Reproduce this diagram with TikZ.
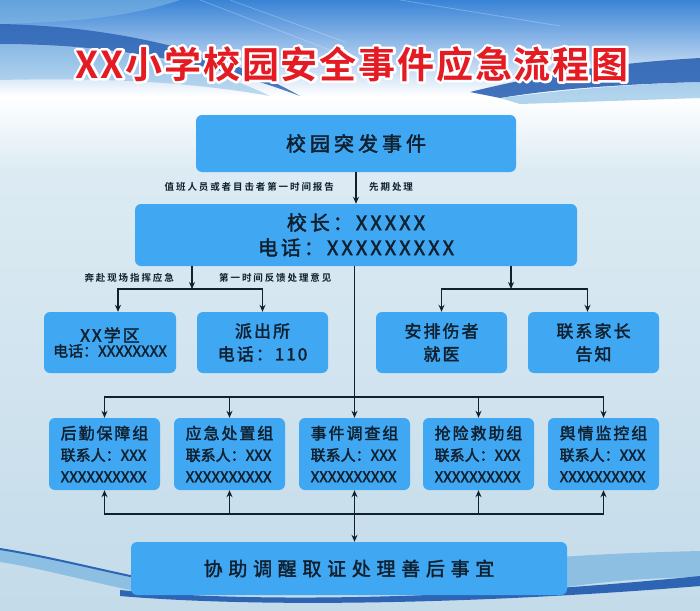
\documentclass[tikz,border=0pt]{standalone}
\usepackage{fontspec}
\setmainfont{Noto Sans CJK SC}[BoldFont={Noto Sans CJK SC Bold}]
\usetikzlibrary{arrows.meta}

\definecolor{ink}{HTML}{10202E}
\definecolor{boxblue}{HTML}{40A8F3}
\definecolor{bgtop}{HTML}{DCEBF3}
\definecolor{bgbot}{HTML}{C4DBEA}
\definecolor{hdrtop}{HTML}{3A84D6}
\definecolor{swdark}{HTML}{2D64B4}
\definecolor{swlight}{HTML}{7FB8E2}
\definecolor{titlered}{HTML}{E51B23}

\newcommand\fs[2]{\fontsize{#1}{#2}\selectfont}
\newcommand\spaced[1]{\addfontfeatures{LetterSpace=#1,FakeBold=2}}
\newcommand\medium{\addfontfeature{FakeBold=2}}
% 白色描边（文字描边模式）
\newcommand\outlined[1]{\special{pdf:literal direct 1 j 5 w 2 Tr}#1\special{pdf:literal direct 0 Tr}}

\tikzset{
  box/.style={fill=boxblue, rounded corners=6pt, inner sep=0pt, text=ink, align=center},
  groupbox/.style={box, minimum width=111pt, minimum height=72pt, align=left, font=\fs{15}{21.5}\medium},
  conn/.style={draw=ink, line width=1.2pt, -{Stealth[length=7pt,width=6pt]}},
  lbl/.style={text=ink, inner sep=0pt, font=\fs{9.5}{11}\bfseries\addfontfeature{LetterSpace=20}},
  titlefont/.style={font=\fs{37}{40}\bfseries\addfontfeature{LetterSpace=5}},
}

\begin{document}
\begin{tikzpicture}[x=1pt, y=-1pt]
  \useasboundingbox (0,0) rectangle (700,610);
  % 背景
  \shade[top color=hdrtop, bottom color=white] (0,0) rectangle (700,96);
  \shade[top color=white, bottom color=bgtop] (0,96) rectangle (700,170);
  \shade[top color=bgtop, bottom color=bgbot] (0,170) rectangle (700,610);
  \fill[swlight, opacity=.6] (0,0) -- (180,0) .. controls (120,20) and (60,22) .. (0,24) -- cycle;
  \fill[swdark, opacity=.85] (0,24) .. controls (110,26) and (220,50) .. (300,96)
    .. controls (210,62) and (110,44) .. (0,44) -- cycle;
  \fill[swlight, opacity=.5] (0,44) .. controls (110,46) and (200,62) .. (270,96)
    .. controls (180,80) and (90,78) .. (0,80) -- cycle;
  \fill[swdark, opacity=.9] (470,92) .. controls (560,70) and (630,62) .. (700,58)
    -- (700,82) .. controls (630,84) and (560,88) .. (500,98) -- cycle;
  \fill[swlight, opacity=.6] (500,98) .. controls (580,88) and (640,84) .. (700,82)
    -- (700,98) .. controls (640,100) and (580,102) .. (520,104) -- cycle;
  \draw[white, opacity=.25, line width=.8pt] (200,0) -- (330,50) (230,0) -- (345,42)
    (400,0) -- (560,26);
  \fill[swlight, opacity=.8] (0,549) .. controls (50,557) and (100,570) .. (140,578)
    -- (140,592) .. controls (90,582) and (40,568) .. (0,562) -- cycle;
  \draw[swdark, line width=2pt] (0,549) .. controls (50,557) and (100,570) .. (140,578);
  \fill[swlight, opacity=.8] (560,557) .. controls (620,553) and (660,552) .. (700,551)
    -- (700,577) .. controls (640,578) and (600,582) .. (560,588) -- cycle;
  \fill[swdark] (120,590) .. controls (260,604) and (480,598) .. (700,576)
    -- (700,586) .. controls (480,604) and (260,608) .. (120,596) -- cycle;

  % 标题
  \node[titlefont, text=white] (titleedge) at (352,64) {\outlined{XX小学校园安全事件应急流程图}};
  \node[titlefont, text=titlered] (title) at (352,64) {XX小学校园安全事件应急流程图};

  % 第一层
  \node[box, minimum width=320pt, minimum height=57pt, font=\fs{20}{24}\spaced{20}] (incident) at (356,143.5) {校园突发事件};
  \node[box, minimum width=442pt, minimum height=62pt, font=\fs{20}{25}\spaced{15}] (head) at (356,235) {校长：XXXXX\\电话：XXXXXXXXX};
  \draw[conn] (incident) -- (head);
  \node[lbl, anchor=east] (report) at (334,187) {值班人员或者目击者第一时间报告};
  \node[lbl, anchor=west] (firstaid) at (369,187) {先期处理};

  % 第二层
  \node[box, minimum width=132pt, minimum height=61pt] (district) at (110,342.5)
    {{\fs{17}{23}\spaced{12}XX学区}\\{\fs{15}{23}\medium 电话：XXXXXXXX}};
  \node[box, minimum width=131pt, minimum height=61pt, font=\fs{17}{23}\spaced{12}] (police) at (262.5,342.5) {派出所\\电话：110};
  \node[box, minimum width=131pt, minimum height=61pt, font=\fs{17}{23}\spaced{12}] (injured) at (441.5,342.5) {安排伤者\\就医};
  \node[box, minimum width=131pt, minimum height=61pt, font=\fs{17}{23}\spaced{12}] (parents) at (593.5,342.5) {联系家长\\告知};
  \coordinate (splitL) at (192,289);
  \coordinate (splitR) at (511,289);
  \draw[conn] (head.south -| splitL) -- (splitL);
  \draw[conn] (splitL) -| ([xshift=8pt]district.north);
  \draw[conn] (splitL) -| (police.north);
  \draw[conn] (head.south -| splitR) -- (splitR);
  \draw[conn] (splitR) -| (injured.north);
  \draw[conn] (splitR) -| ([xshift=-6pt]parents.north);
  \node[lbl, anchor=east] (rush) at (174,278) {奔赴现场指挥应急};
  \node[lbl, anchor=west] (feedback) at (219,278) {第一时间反馈处理意见};

  % 第三层
  \node[groupbox] (logistics) at (104.5,454) {{\fs{16}{21.5}\spaced{12}后勤保障组}\\联系人：XXX\\XXXXXXXXXX};
  \node[groupbox] (handling) at (229.5,454) {{\fs{16}{21.5}\spaced{12}应急处置组}\\联系人：XXX\\XXXXXXXXXX};
  \node[groupbox] (survey) at (354.5,454) {{\fs{16}{21.5}\spaced{12}事件调查组}\\联系人：XXX\\XXXXXXXXXX};
  \node[groupbox] (rescue) at (478.5,454) {{\fs{16}{21.5}\spaced{12}抢险救助组}\\联系人：XXX\\XXXXXXXXXX};
  \node[groupbox] (opinion) at (603.5,454) {{\fs{16}{21.5}\spaced{12}舆情监控组}\\联系人：XXX\\XXXXXXXXXX};
  \coordinate (busT) at (354.5,397);
  \draw[conn] (head.south -| survey.north) -- (survey.north);
  \draw[conn] (busT) -| (logistics.north);
  \draw[conn] (busT) -| (handling.north);
  \draw[conn] (busT) -| (rescue.north);
  \draw[conn] (busT) -| (opinion.north);

  % 第四层
  \node[box, minimum width=436pt, minimum height=53pt, font=\fs{19}{23}\spaced{30}] (aftermath) at (349,568.5) {协助调醒取证处理善后事宜};
  \coordinate (busB) at (354.5,514);
  \draw[conn] (busB) -| (logistics.south);
  \draw[conn] (busB) -| (handling.south);
  \draw[conn] (busB) -| (rescue.south);
  \draw[conn] (busB) -| (opinion.south);
  \draw[conn] (busB) -- (survey.south);
  \draw[conn] (busB) -- (aftermath.north -| busB);
\end{tikzpicture}
\end{document}
